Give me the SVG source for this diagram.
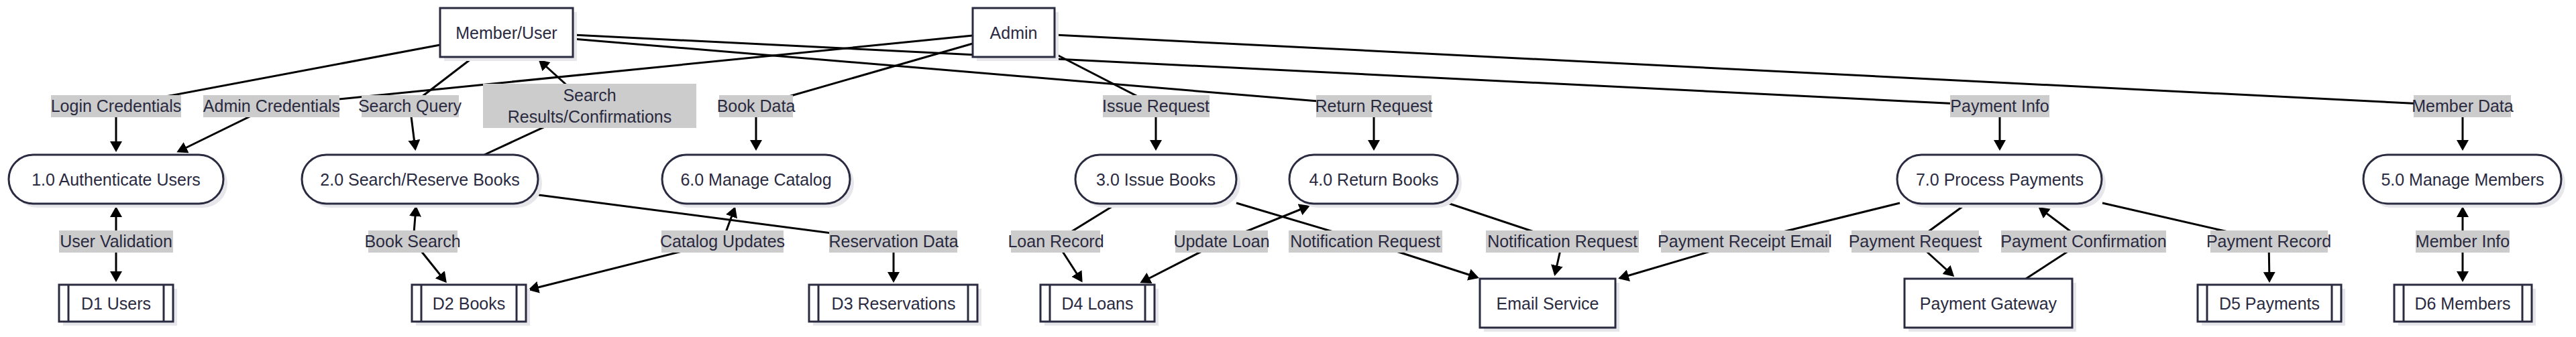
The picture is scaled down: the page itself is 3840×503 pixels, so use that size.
<svg xmlns="http://www.w3.org/2000/svg" width="3840" height="503" viewBox="0 0 3840 503">
<style>
  text { font-family: "Liberation Sans", Arial, sans-serif; font-size: 25px; fill: #2a2a40; text-anchor: middle; dominant-baseline: central; }
  .node { fill: #ffffff; stroke: #2a2a40; stroke-width: 3; }
  .shadow { fill: #e6e6eb; stroke: none; }
  .edge { fill: none; stroke: #000000; stroke-width: 3; }
  .lbl { fill: #cccccc; stroke: none; }
  .inner { stroke: #2a2a40; stroke-width: 3; }
</style>
<defs>
  <marker id="arr" viewBox="0 0 16 18" markerWidth="16" markerHeight="18" refX="13" refY="9" orient="auto-start-reverse" markerUnits="userSpaceOnUse">
    <path d="M0,0 L16,9 L0,18 z" fill="#000000"/>
  </marker>
</defs>
<rect width="3840" height="503" fill="#ffffff"/>

<g id="connectors">
  <path class="edge" d="M656,67 L173,158 L173,224" marker-end="url(#arr)"/>
  <path class="edge" d="M1450,53 L405,158 L266,226" marker-end="url(#arr)"/>
  <path class="edge" d="M706,85 L611,158 L619,222" marker-end="url(#arr)"/>
  <path class="edge" d="M722,231 L879,158 L805,91" marker-end="url(#arr)"/>
  <path class="edge" d="M1450,65 L1127,158 L1127,222" marker-end="url(#arr)"/>
  <path class="edge" d="M1572,80 L1723,158 L1723,222" marker-end="url(#arr)"/>
  <path class="edge" d="M854,58 L2048,158 L2048,222" marker-end="url(#arr)"/>
  <path class="edge" d="M854,52 L2981,158 L2981,222" marker-end="url(#arr)"/>
  <path class="edge" d="M1572,52 L3671,158 L3671,222" marker-end="url(#arr)"/>
  <path class="edge" d="M173,311 L173,360 L173,418" marker-start="url(#arr)" marker-end="url(#arr)"/>
  <path class="edge" d="M620,310 L616,360 L664,420" marker-start="url(#arr)" marker-end="url(#arr)"/>
  <path class="edge" d="M1095,311 L1077,360 L790,432" marker-start="url(#arr)" marker-end="url(#arr)"/>
  <path class="edge" d="M803,291 L1332,360 L1332,419" marker-end="url(#arr)"/>
  <path class="edge" d="M1663,305 L1574,360 L1612,419" marker-end="url(#arr)"/>
  <path class="edge" d="M1950,308 L1821,360 L1702,421" marker-start="url(#arr)" marker-end="url(#arr)"/>
  <path class="edge" d="M1843,303 L2035,360 L2202,414" marker-end="url(#arr)"/>
  <path class="edge" d="M2158,303 L2329,360 L2318,409" marker-end="url(#arr)"/>
  <path class="edge" d="M2832,303 L2601,360 L2415,415" marker-end="url(#arr)"/>
  <path class="edge" d="M2930,305 L2855,360 L2911,411" marker-end="url(#arr)"/>
  <path class="edge" d="M3020,416 L3106,360 L3041,311" marker-end="url(#arr)"/>
  <path class="edge" d="M3134,303 L3382,360 L3383,419" marker-end="url(#arr)"/>
  <path class="edge" d="M3671,311 L3671,360 L3671,418" marker-start="url(#arr)" marker-end="url(#arr)"/>
</g>

<g id="edge-labels">
  <rect class="lbl" x="76" y="142" width="194" height="33"/><text x="173" y="158">Login Credentials</text>
  <rect class="lbl" x="303" y="142" width="203" height="33"/><text x="405" y="158">Admin Credentials</text>
  <rect class="lbl" x="539" y="142" width="145" height="33"/><text x="611" y="158">Search Query</text>
  <rect class="lbl" x="720" y="125" width="318" height="66"/><text x="879" y="142">Search</text><text x="879" y="174">Results/Confirmations</text>
  <rect class="lbl" x="1072" y="142" width="110" height="33"/><text x="1127" y="158">Book Data</text>
  <rect class="lbl" x="1644" y="142" width="159" height="33"/><text x="1723" y="158">Issue Request</text>
  <rect class="lbl" x="1962" y="142" width="172" height="33"/><text x="2048" y="158">Return Request</text>
  <rect class="lbl" x="2907" y="142" width="148" height="33"/><text x="2981" y="158">Payment Info</text>
  <rect class="lbl" x="3598" y="142" width="145" height="33"/><text x="3671" y="158">Member Data</text>
  <rect class="lbl" x="88" y="344" width="170" height="33"/><text x="173" y="360">User Validation</text>
  <rect class="lbl" x="549" y="344" width="133" height="33"/><text x="615" y="360">Book Search</text>
  <rect class="lbl" x="986" y="344" width="182" height="33"/><text x="1077" y="360">Catalog Updates</text>
  <rect class="lbl" x="1236" y="344" width="191" height="33"/><text x="1332" y="360">Reservation Data</text>
  <rect class="lbl" x="1507" y="344" width="133" height="33"/><text x="1574" y="360">Loan Record</text>
  <rect class="lbl" x="1752" y="344" width="138" height="33"/><text x="1821" y="360">Update Loan</text>
  <rect class="lbl" x="1921" y="344" width="229" height="33"/><text x="2035" y="360">Notification Request</text>
  <rect class="lbl" x="2215" y="344" width="228" height="33"/><text x="2329" y="360">Notification Request</text>
  <rect class="lbl" x="2476" y="344" width="251" height="33"/><text x="2601" y="360">Payment Receipt Email</text>
  <rect class="lbl" x="2760" y="344" width="190" height="33"/><text x="2855" y="360">Payment Request</text>
  <rect class="lbl" x="2983" y="344" width="246" height="33"/><text x="3106" y="360">Payment Confirmation</text>
  <rect class="lbl" x="3295" y="344" width="175" height="33"/><text x="3382" y="360">Payment Record</text>
  <rect class="lbl" x="3601" y="344" width="140" height="33"/><text x="3671" y="360">Member Info</text>
</g>

<g id="member-user">
  <rect class="shadow" x="662" y="18" width="198" height="73"/>
  <rect class="node" x="656" y="12" width="198" height="73"/>
  <text x="755" y="49">Member/User</text>
</g>
<g id="admin">
  <rect class="shadow" x="1456" y="18" width="122" height="73"/>
  <rect class="node" x="1450" y="12" width="122" height="73"/>
  <text x="1511" y="49">Admin</text>
</g>

<g id="p1">
  <rect class="shadow" x="19" y="237" width="320" height="73" rx="36.5"/>
  <rect class="node" x="13" y="231" width="320" height="73" rx="36.5"/>
  <text x="173" y="268">1.0 Authenticate Users</text>
</g>
<g id="p2">
  <rect class="shadow" x="456" y="237" width="352" height="73" rx="36.5"/>
  <rect class="node" x="450" y="231" width="352" height="73" rx="36.5"/>
  <text x="626" y="268">2.0 Search/Reserve Books</text>
</g>
<g id="p6">
  <rect class="shadow" x="993" y="237" width="280" height="73" rx="36.5"/>
  <rect class="node" x="987" y="231" width="280" height="73" rx="36.5"/>
  <text x="1127" y="268">6.0 Manage Catalog</text>
</g>
<g id="p3">
  <rect class="shadow" x="1609" y="237" width="240" height="73" rx="36.5"/>
  <rect class="node" x="1603" y="231" width="240" height="73" rx="36.5"/>
  <text x="1723" y="268">3.0 Issue Books</text>
</g>
<g id="p4">
  <rect class="shadow" x="1928" y="237" width="251" height="73" rx="36.5"/>
  <rect class="node" x="1922" y="231" width="251" height="73" rx="36.5"/>
  <text x="2048" y="268">4.0 Return Books</text>
</g>
<g id="p7">
  <rect class="shadow" x="2834" y="237" width="305" height="73" rx="36.5"/>
  <rect class="node" x="2828" y="231" width="305" height="73" rx="36.5"/>
  <text x="2981" y="268">7.0 Process Payments</text>
</g>
<g id="p5">
  <rect class="shadow" x="3529" y="237" width="295" height="73" rx="36.5"/>
  <rect class="node" x="3523" y="231" width="295" height="73" rx="36.5"/>
  <text x="3671" y="268">5.0 Manage Members</text>
</g>

<g id="d1">
  <rect class="shadow" x="94" y="431" width="170" height="55"/>
  <rect class="node" x="88" y="425" width="170" height="55"/>
  <line class="inner" x1="102" y1="425" x2="102" y2="480"/><line class="inner" x1="244" y1="425" x2="244" y2="480"/>
  <text x="173" y="453">D1 Users</text>
</g>
<g id="d2">
  <rect class="shadow" x="620" y="431" width="170" height="55"/>
  <rect class="node" x="614" y="425" width="170" height="55"/>
  <line class="inner" x1="628" y1="425" x2="628" y2="480"/><line class="inner" x1="770" y1="425" x2="770" y2="480"/>
  <text x="699" y="453">D2 Books</text>
</g>
<g id="d3">
  <rect class="shadow" x="1212" y="431" width="251" height="55"/>
  <rect class="node" x="1206" y="425" width="251" height="55"/>
  <line class="inner" x1="1220" y1="425" x2="1220" y2="480"/><line class="inner" x1="1443" y1="425" x2="1443" y2="480"/>
  <text x="1332" y="453">D3 Reservations</text>
</g>
<g id="d4">
  <rect class="shadow" x="1557" y="431" width="170" height="55"/>
  <rect class="node" x="1551" y="425" width="170" height="55"/>
  <line class="inner" x1="1565" y1="425" x2="1565" y2="480"/><line class="inner" x1="1707" y1="425" x2="1707" y2="480"/>
  <text x="1636" y="453">D4 Loans</text>
</g>
<g id="d5">
  <rect class="shadow" x="3282" y="431" width="214" height="55"/>
  <rect class="node" x="3276" y="425" width="214" height="55"/>
  <line class="inner" x1="3290" y1="425" x2="3290" y2="480"/><line class="inner" x1="3476" y1="425" x2="3476" y2="480"/>
  <text x="3383" y="453">D5 Payments</text>
</g>
<g id="d6">
  <rect class="shadow" x="3575" y="431" width="205" height="55"/>
  <rect class="node" x="3569" y="425" width="205" height="55"/>
  <line class="inner" x1="3583" y1="425" x2="3583" y2="480"/><line class="inner" x1="3760" y1="425" x2="3760" y2="480"/>
  <text x="3671" y="453">D6 Members</text>
</g>

<g id="email-service">
  <rect class="shadow" x="2212" y="422" width="202" height="73"/>
  <rect class="node" x="2206" y="416" width="202" height="73"/>
  <text x="2307" y="453">Email Service</text>
</g>
<g id="payment-gateway">
  <rect class="shadow" x="2845" y="422" width="250" height="73"/>
  <rect class="node" x="2839" y="416" width="250" height="73"/>
  <text x="2964" y="453">Payment Gateway</text>
</g>
</svg>
